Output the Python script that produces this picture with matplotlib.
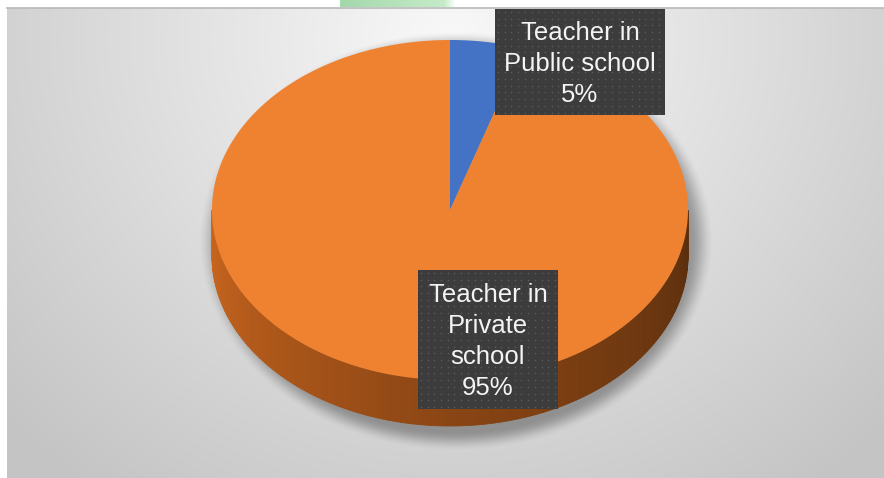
import numpy as np
import matplotlib
matplotlib.use("Agg")
import matplotlib.pyplot as plt
from matplotlib.patches import Polygon, Rectangle
from matplotlib.colors import to_rgb

# ---- data ----
categories = ["Teacher in Public school", "Teacher in Private school"]
shares = [5, 95]
label_lines = [["Teacher in", "Public school", "5%"],
               ["Teacher in", "Private", "school", "95%"]]
slice_colors = ["#4472C4", "#EF8231"]

W, H = 884, 478
fig = plt.figure(figsize=(W / 100, H / 100), dpi=100)
fig.patch.set_facecolor("white")
ax = fig.add_axes([0, 0, 1, 1])
ax.set_xlim(0, W)
ax.set_ylim(H, 0)
ax.axis("off")

# ---- chart area background: soft radial grey gradient ----
bx0, by0 = 7, 8
gx = np.linspace(bx0, W, 440)
gy = np.linspace(by0, H, 240)
X, Y = np.meshgrid(gx, gy)
d = np.sqrt(((X - 450) / 560) ** 2 + ((Y - 40) / 520) ** 2)
v = np.clip(0.975 - 0.19 * d, 0.77, 0.97)
bg = np.dstack([v, v, v])
ax.imshow(bg, extent=(bx0, W, H, by0), interpolation="bilinear", zorder=0)
ax.plot([bx0, W], [by0, by0], color="#b9b9b9", lw=1.2, zorder=1)

# green strip along the top edge
sx = np.linspace(0, 1, 200)
green = np.zeros((1, 200, 4))
g0, g1 = np.array(to_rgb("#a3d8ab")), np.array(to_rgb("#c9edcd"))
green[0, :, :3] = g0 + (g1 - g0) * sx[:, None]
green[0, :, 3] = np.where(sx < 0.9, 1.0, np.clip((1 - sx) / 0.1, 0, 1))
ax.imshow(green, extent=(340, 456, 7, 0), interpolation="bilinear", aspect="auto", zorder=1)

# ---- pie geometry ----
cx, cy, rx, ry, depth = 450, 210, 238, 170, 46


def pt(theta, dy=0.0):
    t = np.radians(theta)
    return cx + rx * np.cos(t), cy - ry * np.sin(t) + dy


# soft drop shadow beneath the pie
sxg = np.linspace(150, 780, 420)
syg = np.linspace(by0, H, 320)
SX, SY = np.meshgrid(sxg, syg)
ds = np.sqrt(((SX - (cx + 6)) / (rx + 6)) ** 2 + ((SY - (cy + depth / 2 + 8)) / (ry + depth / 2 + 6)) ** 2)
t = np.clip((ds - 0.96) / 0.10, 0, 1)
alpha = 0.32 * (1 - t * t * (3 - 2 * t))
shadow = np.zeros(SX.shape + (4,))
shadow[..., 3] = alpha
ax.imshow(shadow, extent=(150, 780, H, by0), interpolation="bilinear", aspect="auto", zorder=2)

# front side wall, shaded from left to right
side_stops = [(180, "#cc671f"), (270, "#8a4514"), (360, "#5a2e0d")]
angs = np.linspace(180, 360, 181)
for a0, a1 in zip(angs[:-1], angs[1:]):
    am = 0.5 * (a0 + a1)
    for (s0, c0), (s1, c1) in zip(side_stops[:-1], side_stops[1:]):
        if s0 <= am <= s1:
            f = (am - s0) / (s1 - s0)
            col = np.array(to_rgb(c0)) * (1 - f) + np.array(to_rgb(c1)) * f
            break
    quad = [pt(a0), pt(a1), pt(a1, depth), pt(a0, depth)]
    ax.add_patch(Polygon(quad, closed=True, facecolor=col, edgecolor=col, lw=0.6, zorder=3))

# top face, slices clockwise from 12 o'clock
total = float(sum(shares))
start = 90.0
for share, col in zip(shares, slice_colors):
    sweep = 360.0 * share / total
    arc = np.linspace(start, start - sweep, max(int(sweep * 2), 8))
    verts = [(cx, cy)] + [pt(a) for a in arc]
    ax.add_patch(Polygon(verts, closed=True, facecolor=col, edgecolor="none", zorder=4))
    start -= sweep

# ---- data labels in dark dotted boxes ----
boxes = [(495, 9, 170, 106), (418, 270, 140, 139)]
for (x0, y0, w, h), lines in zip(boxes, label_lines):
    ax.add_patch(Rectangle((x0, y0), w, h, facecolor="#3c3c3c", edgecolor="none", zorder=5))
    px = np.arange(x0 + 3, x0 + w - 1, 6.7)
    py = np.arange(y0 + 3, y0 + h - 1, 6.7)
    PX, PY = np.meshgrid(px, py)
    ax.scatter(PX.ravel(), PY.ravel(), s=1.4, color="#595959", linewidths=0, zorder=6)
    ax.text(x0 + w / 2, y0 + h / 2 + 2, "\n".join(lines), ha="center", va="center",
            color="#f4f4f4", fontsize=18.5, family="Liberation Sans",
            linespacing=1.38, zorder=7)

fig.savefig("out.png", dpi=100, facecolor=fig.get_facecolor())
